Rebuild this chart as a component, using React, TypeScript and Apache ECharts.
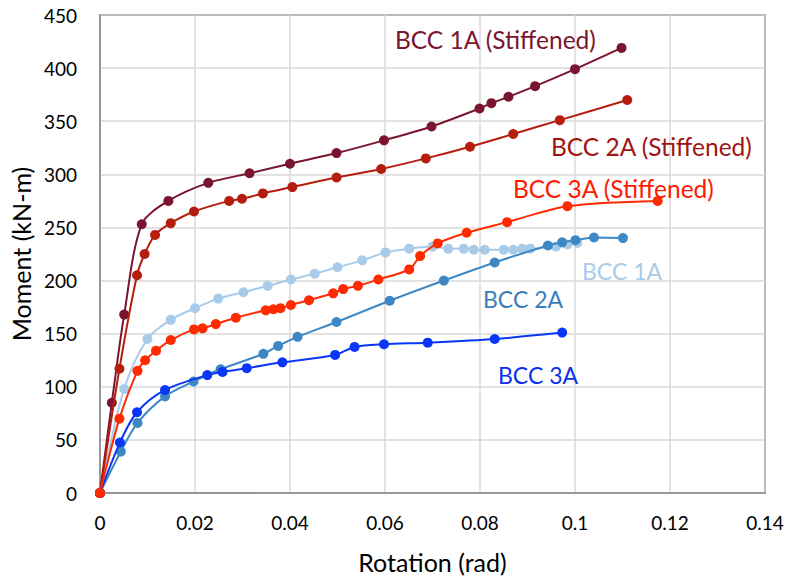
import React, { useEffect, useRef } from "react";
import * as echarts from "echarts";

// [rotation (rad), moment (kN-m)]
const bcc1AStiffened: number[][] = [
  [0, 0], [0.0025, 85], [0.0051, 168], [0.0088, 253], [0.0144, 275], [0.0228, 292],
  [0.0315, 301], [0.040, 310], [0.0498, 320], [0.0598, 332], [0.0698, 345],
  [0.0799, 362], [0.0824, 367], [0.086, 373], [0.0916, 383], [0.100, 399], [0.1098, 419],
];
const bcc2AStiffened: number[][] = [
  [0, 0], [0.0041, 117], [0.0078, 205], [0.0094, 225], [0.0116, 243], [0.0149, 254],
  [0.0198, 265], [0.0272, 275], [0.0299, 277], [0.0343, 282], [0.0405, 288],
  [0.0498, 297], [0.0592, 305], [0.0686, 315], [0.0779, 326], [0.087, 338],
  [0.0968, 351], [0.111, 370],
];
const bcc3AStiffened: number[][] = [
  [0, 0], [0.0041, 70], [0.0079, 115], [0.0095, 125], [0.0118, 134], [0.0149, 144],
  [0.0198, 154], [0.0216, 155], [0.0244, 159], [0.0286, 165], [0.0349, 172],
  [0.0365, 173], [0.038, 174], [0.0402, 177], [0.044, 181.5], [0.0491, 188],
  [0.0512, 192], [0.0543, 195], [0.0586, 201], [0.0651, 210.5], [0.0674, 223],
  [0.0711, 235], [0.0772, 245], [0.0857, 255], [0.0984, 270], [0.1174, 275],
];
const bcc1A: number[][] = [
  [0, 0], [0.0051, 98], [0.010, 145], [0.0149, 163], [0.020, 174], [0.0249, 183],
  [0.0302, 189], [0.0353, 195], [0.0402, 201], [0.0452, 206.5], [0.050, 212.5],
  [0.0552, 219], [0.0601, 226.5], [0.0651, 230], [0.070, 232], [0.0733, 230],
  [0.0766, 230], [0.0787, 229], [0.081, 229], [0.085, 229], [0.087, 229],
  [0.0889, 230], [0.0906, 230], [0.096, 232], [0.0984, 234], [0.1005, 235.5],
];
const bcc2A: number[][] = [
  [0, 0], [0.0044, 39], [0.0079, 66], [0.0137, 91], [0.0197, 105], [0.0254, 116.5],
  [0.0344, 131], [0.0375, 138.5], [0.0416, 147], [0.0498, 161], [0.061, 181],
  [0.0724, 200], [0.0831, 217], [0.0943, 233], [0.0973, 236], [0.1001, 238],
  [0.104, 240.5], [0.1101, 240],
];
const bcc3A: number[][] = [
  [0, 0], [0.0042, 47.5], [0.0078, 76], [0.0137, 97], [0.0226, 111], [0.0258, 114],
  [0.0309, 117.5], [0.0384, 123], [0.0495, 130], [0.0536, 137.5], [0.0598, 140],
  [0.069, 141.5], [0.0831, 145], [0.0973, 151],
];

const seriesNames = [
  "BCC 1A", "BCC 2A", "BCC 3A",
  "BCC 1A (Stiffened)", "BCC 2A (Stiffened)", "BCC 3A (Stiffened)",
];
const seriesData = [bcc1A, bcc2A, bcc3A, bcc1AStiffened, bcc2AStiffened, bcc3AStiffened];
const seriesColors = ["#A9CBEA", "#3D88C4", "#0A36F5", "#7A1530", "#B51D0E", "#FF2A00"];
const labelColors = ["#A9CBEA", "#3A7DB9", "#0B2FF0", "#7A1530", "#A01512", "#FF1A00"];
// label anchor positions (left, vertical middle) in pixels
const labelPos = [
  [582, 271], [483, 299], [498, 375], [395, 39], [551, 146], [513, 188],
];

const xTicks = { min: 0, max: 0.14, interval: 0.02 };
const yTicks = { min: 0, max: 450, interval: 50 };

export default function App() {
  const ref = useRef<HTMLDivElement>(null);
  useEffect(() => {
    if (!ref.current) return;
    const chart = echarts.init(ref.current, undefined, { renderer: "svg" });
    const font = "Lato, 'Open Sans', sans-serif";
    chart.setOption({
      animation: false,
      backgroundColor: "#ffffff",
      grid: {
        left: 99, right: 23, top: 15, bottom: 84,
        show: true, borderColor: "#333333", borderWidth: 1.5, backgroundColor: "transparent",
      },
      xAxis: {
        type: "value",
        min: xTicks.min, max: xTicks.max, interval: xTicks.interval,
        name: "Rotation (rad)", nameLocation: "middle", nameGap: 56,
        nameTextStyle: { fontFamily: font, fontSize: 25, color: "#000" },
        axisLine: { show: true, lineStyle: { color: "#8c8c8c", width: 1.5 } },
        axisTick: { show: false },
        axisLabel: {
          fontFamily: font, fontSize: 19, color: "#000", margin: 20,
          formatter: (v: number) => String(parseFloat(v.toFixed(2))),
        },
        splitLine: { show: true, lineStyle: { color: "#D9D9D9", width: 1.5 } },
      },
      yAxis: {
        type: "value",
        min: yTicks.min, max: yTicks.max, interval: yTicks.interval,
        name: "Moment (kN-m)", nameLocation: "middle", nameGap: 57, nameRotate: 90,
        nameTextStyle: { fontFamily: font, fontSize: 25, color: "#000" },
        axisLine: { show: true, lineStyle: { color: "#8c8c8c", width: 1.5 } },
        axisTick: { show: false },
        axisLabel: { fontFamily: font, fontSize: 19, color: "#000", margin: 23 },
        splitLine: { show: true, lineStyle: { color: "#D9D9D9", width: 1.5 } },
      },
      series: seriesData.map((d, i) => ({
        name: seriesNames[i],
        type: "line",
        data: d,
        smooth: 0.3,
        symbol: "circle",
        symbolSize: 10,
        lineStyle: { color: seriesColors[i], width: 2 },
        itemStyle: { color: seriesColors[i] },
        z: 2 + i,
      })),
      graphic: seriesNames.map((n, i) => ({
        type: "text",
        x: labelPos[i][0],
        y: labelPos[i][1],
        style: {
          text: n,
          fill: labelColors[i],
          font: `${i >= 3 ? 24.5 : 23}px ${font}`,
          textVerticalAlign: "middle",
          verticalAlign: "middle",
        },
        z: 100,
      })),
    });
    return () => chart.dispose();
  }, []);
  return (
    <div
      ref={ref}
      style={{ position: "fixed", left: 0, top: 0, width: 788, height: 579, background: "#fff" }}
    />
  );
}
